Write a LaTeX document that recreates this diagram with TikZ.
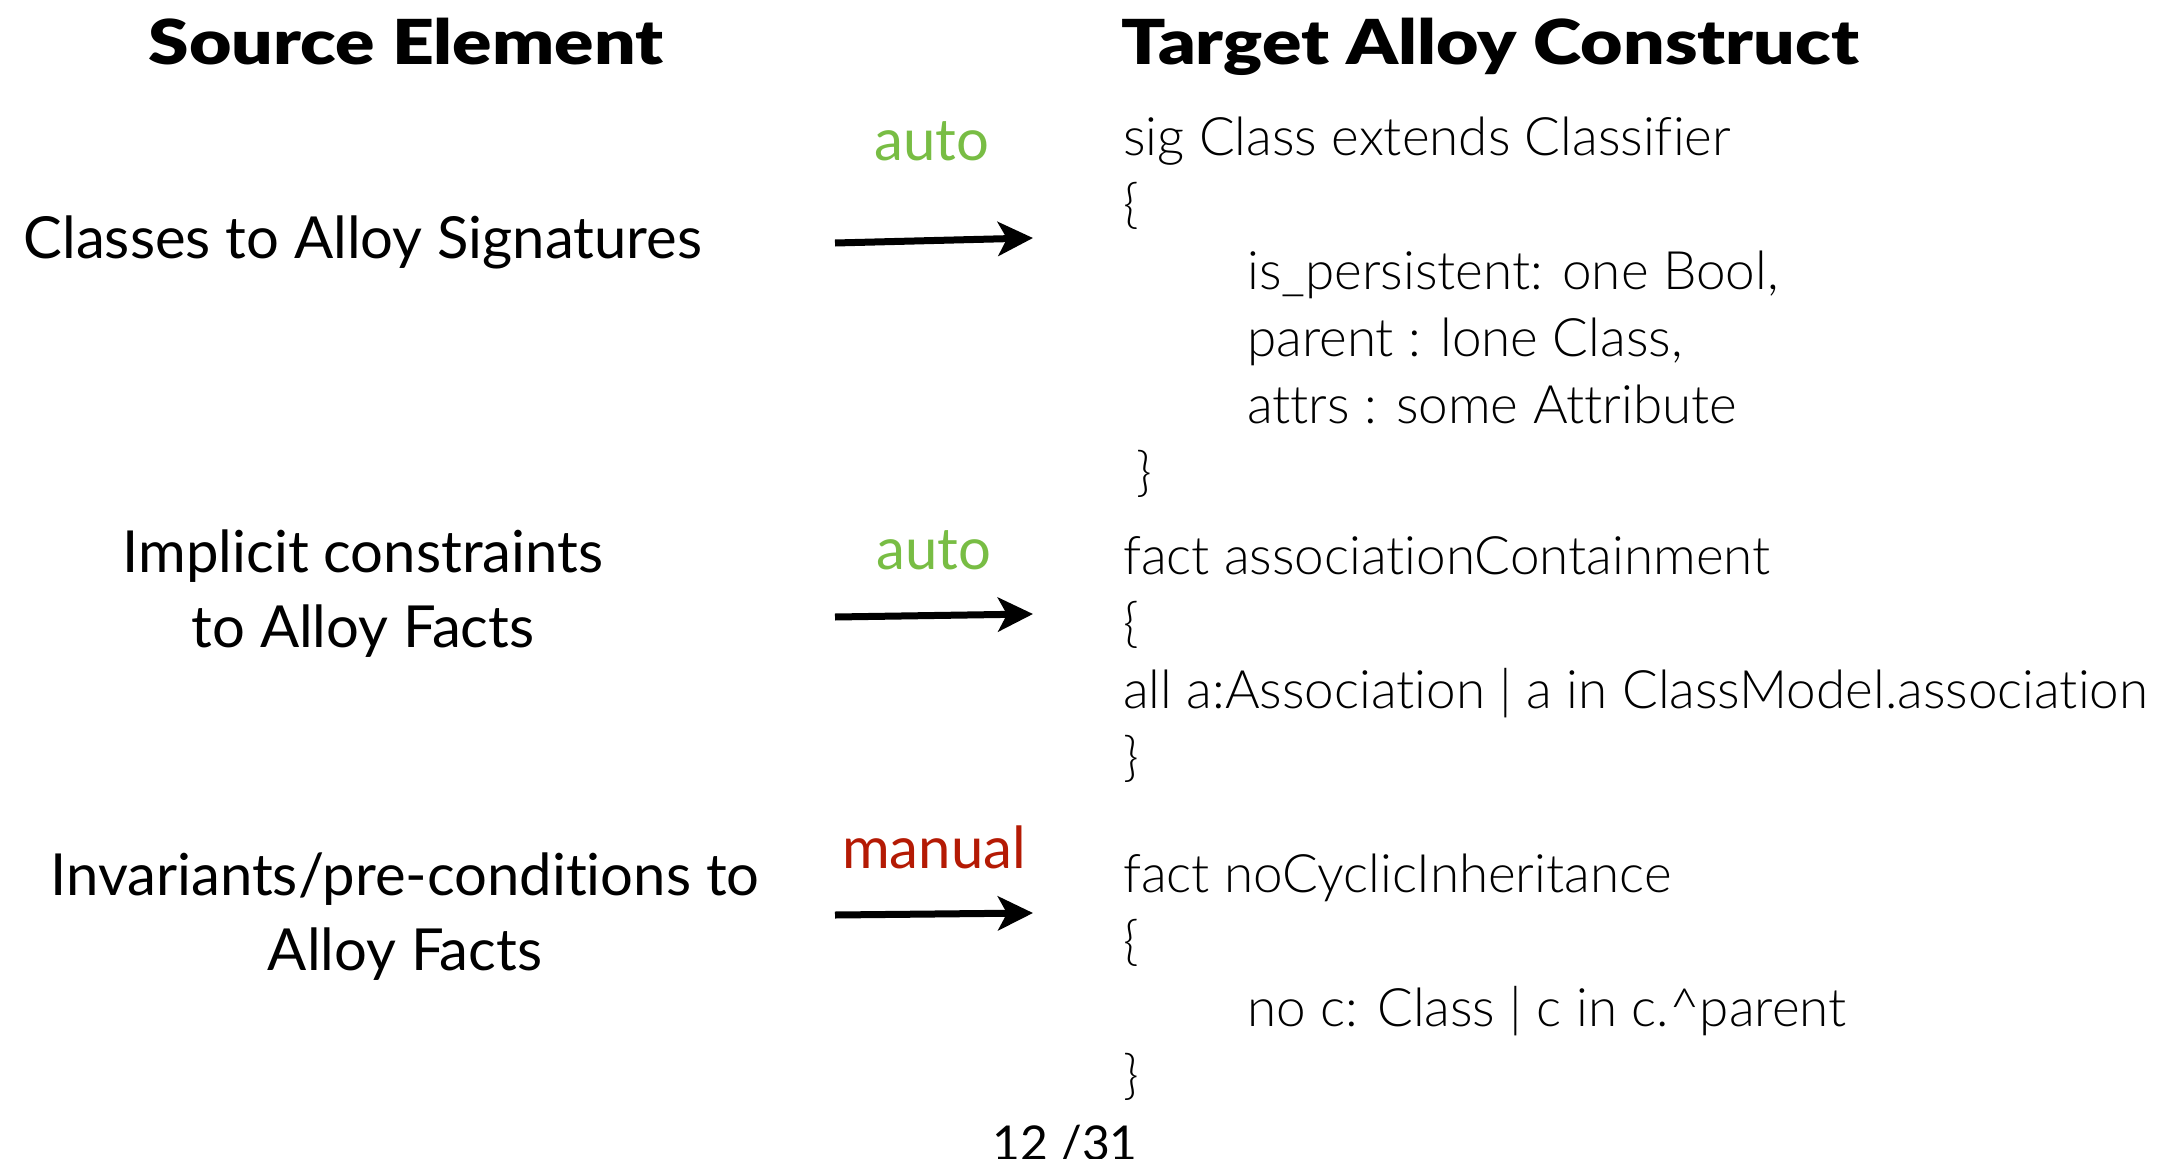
\documentclass[tikz,border=0pt]{standalone}
\usepackage{fontspec}
\setmainfont{Lato}[Ligatures=NoCommon]
\newfontfamily\codefont{Lato Light}[Ligatures=NoCommon]
\newfontfamily\headfont{Lato Black}[FakeStretch=1.18]
\usetikzlibrary{arrows.meta}
\definecolor{autogreen}{RGB}{120,189,68}
\definecolor{manualred}{RGB}{180,26,4}
\tikzset{
  heading/.style={anchor=base, font=\headfont\fontsize{62}{70}\selectfont},
  source/.style={anchor=base, align=center, font=\fontsize{58}{75}\selectfont},
  code/.style={anchor=base west, inner sep=0pt, font=\codefont\fontsize{53}{67}\selectfont},
  mode/.style={anchor=base, font=\fontsize{58}{64}\selectfont},
  maparrow/.style={line width=7pt, -{Stealth[length=35pt, width=34pt, inset=9pt]}}
}
\begin{document}
\begin{tikzpicture}[x=1pt, y=-1pt]
\useasboundingbox (0,0) rectangle (2172,1159);

% column headings
\node[heading] (hsrc) at (406,64) {Source Element};
\node[heading] (htgt) at (1490,64) {Target Alloy Construct};

% source elements
\node[source] (s1) at (363,258) {Classes to Alloy Signatures};
\node[source] (s2a) at (363,572) {Implicit constraints};
\node[source] (s2b) at (363,647) {to Alloy Facts};
\node[source] (s3a) at (405,895) {Invariants/pre-conditions to};
\node[source] (s3b) at (405,970) {Alloy Facts};

% translation modes
\node[mode, text=autogreen] (m1) at (932,160) {auto};
\node[mode, text=autogreen] (m2) at (934,569) {auto};
\node[mode, text=manualred] (m3) at (934,868) {manual};

% arrows
\coordinate (a1s) at (835,243); \coordinate (a1e) at (1033,238);
\coordinate (a2s) at (835,617); \coordinate (a2e) at (1033,614);
\coordinate (a3s) at (835,915); \coordinate (a3e) at (1033,913);
\draw[maparrow] (a1s) -- (a1e);
\draw[maparrow] (a2s) -- (a2e);
\draw[maparrow] (a3s) -- (a3e);

% signature
\node[code] (c11) at (1123,155) {sig Class extends Classifier};
\node[code] (c12) at (1123,222) {\{};
\node[code] (c13) at (1247,289) {is\_persistent: one Bool,};
\node[code] (c14) at (1247,356) {parent : lone Class,};
\node[code] (c15) at (1247,423) {attrs : some Attribute};
\node[code] (c16) at (1136,490) {\}};

% implicit fact
\node[code] (c21) at (1123,574) {fact associationContainment};
\node[code] (c22) at (1123,641) {\{};
\node[code] (c23) at (1123,708) {all a:Association | a in ClassModel.association};
\node[code] (c24) at (1123,775) {\}};

% invariant fact
\node[code] (c31) at (1123,892) {fact noCyclicInheritance};
\node[code] (c32) at (1123,959) {\{};
\node[code] (c33) at (1247,1026) {no c: Class | c in c.\^{}parent};
\node[code] (c34) at (1123,1093) {\}};

% page number
\node[mode, font=\fontsize{48}{56}\selectfont] (pg) at (1065,1160) {12 /31};
\end{tikzpicture}
\end{document}
